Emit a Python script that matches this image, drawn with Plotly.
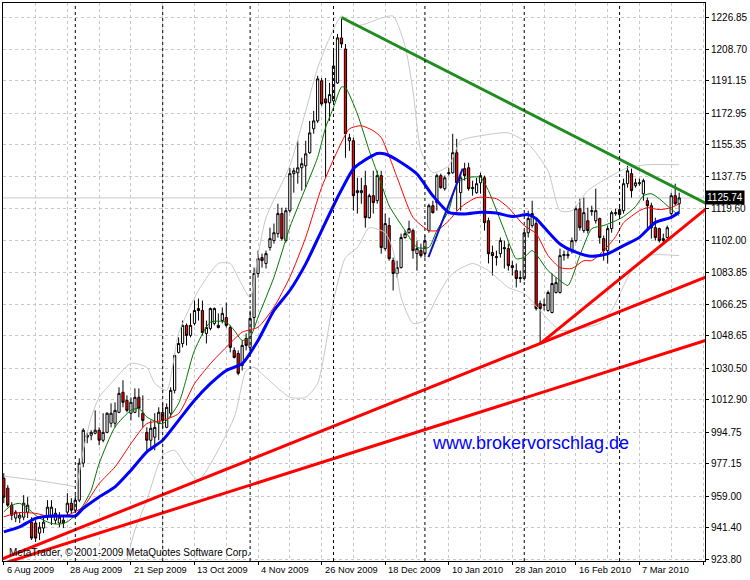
import plotly.graph_objects as go

# daily XAUUSD bars, 6 Aug 2009 .. mid Mar 2010 (bar index = x)
opens = [969.1, 963.5, 954.0, 946.8, 946.8, 947.3, 950.1, 944.5, 944.0, 938.4,
         941.2, 947.3, 947.3, 945.6, 944.0, 945.6, 950.1, 955.1, 951.2, 956.8,
         977.5, 992.0, 993.1, 994.2, 995.9, 990.3, 994.7, 999.8, 999.8, 1005.9,
         1017.1, 1012.6, 1005.4, 1005.9, 1014.3, 1005.4, 994.7, 990.3, 992.0, 999.8,
         1005.9, 997.5, 1005.4, 1018.2, 1039.4, 1044.4, 1054.5, 1048.9, 1055.6, 1063.9,
         1062.8, 1050.0, 1052.8, 1055.6, 1054.5, 1057.2, 1058.9, 1053.3, 1040.5, 1038.8,
         1032.1, 1047.2, 1042.2, 1058.9, 1083.5, 1092.4, 1089.1, 1098.0, 1101.9, 1105.8,
         1117.0, 1101.9, 1118.6, 1139.3, 1139.8, 1142.6, 1143.7, 1151.0, 1164.4, 1168.8,
         1191.2, 1181.1, 1178.9, 1180.0, 1190.0, 1215.2, 1209.0, 1157.7, 1157.7, 1128.7,
         1128.7, 1132.6, 1114.7, 1127.0, 1124.2, 1138.2, 1097.4, 1110.3, 1090.7, 1083.5,
         1086.8, 1103.6, 1106.3, 1107.5, 1094.6, 1096.3, 1094.6, 1107.5, 1121.4, 1123.1,
         1138.2, 1130.9, 1139.3, 1139.8, 1151.0, 1128.7, 1142.1, 1142.6, 1130.9, 1128.7,
         1134.2, 1137.0, 1113.0, 1095.2, 1092.4, 1094.6, 1098.0, 1097.4, 1087.9, 1085.1,
         1080.7, 1080.7, 1106.3, 1110.3, 1111.4, 1066.7, 1066.2, 1062.8, 1061.7, 1072.9,
         1072.9, 1093.5, 1093.5, 1096.3, 1101.9, 1119.7, 1107.5, 1113.0, 1118.1, 1113.0,
         1114.2, 1103.0, 1096.3, 1108.6, 1116.9, 1119.2, 1118.6, 1133.7, 1139.3, 1132.6,
         1133.7, 1128.1, 1124.2, 1121.4, 1109.1, 1108.6, 1101.9, 1103.6, 1117.0, 1127.0,
         1122.5]
highs = [971.9, 965.2, 955.7, 951.2, 950.1, 959.6, 958.5, 947.3, 945.6, 944.5,
         947.3, 956.8, 956.8, 952.3, 950.1, 948.4, 960.7, 957.9, 959.6, 980.2,
         997.0, 994.7, 995.9, 1007.0, 997.5, 1005.4, 1005.9, 1010.9, 1011.5, 1019.9,
         1023.8, 1015.4, 1014.3, 1019.3, 1019.3, 1015.4, 997.5, 1001.4, 1005.4, 1008.7,
         1010.9, 1010.9, 1019.9, 1038.8, 1047.8, 1057.2, 1055.6, 1061.2, 1068.4, 1069.5,
         1068.4, 1057.2, 1064.5, 1064.5, 1061.2, 1064.5, 1067.3, 1054.5, 1042.2, 1040.5,
         1046.1, 1050.0, 1062.8, 1086.8, 1096.3, 1094.6, 1096.3, 1109.1, 1111.4, 1122.5,
         1120.3, 1120.3, 1142.6, 1142.6, 1157.7, 1148.2, 1157.7, 1168.8, 1174.4, 1194.0,
         1192.8, 1192.8, 1190.0, 1209.6, 1217.4, 1226.3, 1211.8, 1161.6, 1159.4, 1137.0,
         1137.0, 1140.9, 1128.1, 1140.9, 1140.9, 1140.9, 1117.0, 1114.7, 1092.4, 1090.7,
         1105.8, 1107.5, 1113.0, 1108.6, 1101.9, 1100.2, 1104.7, 1122.5, 1124.2, 1139.3,
         1139.3, 1138.2, 1142.6, 1161.6, 1158.8, 1139.8, 1145.4, 1145.4, 1135.4, 1137.0,
         1139.8, 1138.2, 1114.7, 1099.1, 1096.3, 1103.6, 1101.9, 1100.2, 1090.7, 1089.1,
         1085.1, 1107.5, 1118.6, 1124.2, 1114.7, 1068.4, 1069.5, 1074.0, 1083.5, 1081.2,
         1097.4, 1096.3, 1096.3, 1103.6, 1121.4, 1125.3, 1125.9, 1120.3, 1121.4, 1130.9,
         1114.7, 1104.7, 1110.3, 1118.6, 1119.7, 1121.4, 1136.5, 1143.7, 1142.1, 1136.5,
         1136.5, 1136.5, 1125.9, 1123.1, 1114.7, 1109.1, 1105.8, 1110.3, 1128.7, 1133.7,
         1128.7]
lows = [955.1, 952.9, 945.6, 944.5, 944.0, 945.6, 946.8, 934.5, 933.4, 934.5,
        938.4, 945.6, 942.9, 943.4, 941.7, 941.2, 947.3, 949.5, 950.1, 955.7,
        975.2, 988.6, 990.3, 993.6, 987.5, 989.2, 994.2, 997.5, 997.5, 1005.4,
        1008.7, 1005.9, 1001.4, 1005.4, 1003.1, 997.5, 984.7, 985.8, 984.7, 990.3,
        997.0, 997.0, 1003.1, 1016.5, 1038.8, 1042.2, 1043.3, 1047.8, 1054.5, 1057.2,
        1048.9, 1044.4, 1051.7, 1054.5, 1052.8, 1055.6, 1053.3, 1039.4, 1036.0, 1026.6,
        1029.3, 1040.5, 1040.5, 1053.3, 1081.2, 1086.8, 1086.3, 1096.3, 1100.2, 1103.6,
        1101.9, 1100.8, 1117.5, 1128.7, 1133.7, 1129.8, 1131.5, 1150.4, 1161.6, 1167.7,
        1177.2, 1137.0, 1168.8, 1178.3, 1189.5, 1209.6, 1148.2, 1152.1, 1118.6, 1117.0,
        1122.5, 1109.1, 1114.2, 1117.0, 1122.5, 1094.6, 1096.3, 1090.7, 1074.0, 1081.2,
        1086.3, 1103.0, 1105.8, 1091.8, 1085.1, 1092.4, 1092.4, 1106.3, 1117.0, 1118.6,
        1130.9, 1129.8, 1138.2, 1139.3, 1118.6, 1118.6, 1135.4, 1129.8, 1127.0, 1128.1,
        1128.1, 1107.5, 1089.1, 1082.4, 1087.9, 1092.4, 1086.3, 1085.1, 1082.4, 1075.7,
        1078.4, 1079.6, 1103.6, 1109.1, 1062.8, 1044.4, 1062.8, 1062.2, 1061.2, 1072.3,
        1072.3, 1090.7, 1091.8, 1094.6, 1100.8, 1107.5, 1106.3, 1105.8, 1115.8, 1111.4,
        1100.2, 1090.7, 1089.1, 1106.3, 1115.8, 1115.3, 1117.0, 1131.5, 1125.9, 1131.5,
        1132.6, 1124.2, 1107.5, 1103.0, 1101.9, 1100.8, 1100.2, 1103.0, 1115.8, 1121.4,
        1117.5]
closes = [958.5, 954.0, 948.4, 950.1, 948.4, 955.1, 954.0, 935.6, 935.6, 941.7,
          944.5, 952.9, 952.9, 949.5, 947.3, 944.0, 955.1, 951.2, 956.8, 977.5,
          995.9, 993.1, 994.7, 995.9, 990.3, 994.7, 1005.4, 1005.4, 1007.0, 1016.5,
          1011.5, 1007.0, 1011.5, 1014.3, 1008.1, 1001.4, 990.3, 997.0, 997.5, 1005.9,
          1001.4, 1008.7, 1018.2, 1037.7, 1044.4, 1054.5, 1048.9, 1054.5, 1062.8, 1062.8,
          1050.5, 1053.3, 1063.9, 1063.9, 1053.3, 1061.2, 1054.5, 1042.2, 1036.6, 1027.7,
          1043.3, 1043.3, 1058.4, 1083.5, 1091.8, 1090.7, 1094.6, 1103.0, 1106.3, 1117.0,
          1103.0, 1118.6, 1139.3, 1140.9, 1142.6, 1144.9, 1150.4, 1162.1, 1168.8, 1192.3,
          1178.3, 1178.9, 1183.5, 1199.5, 1215.2, 1211.8, 1161.6, 1159.4, 1127.0, 1129.8,
          1129.8, 1114.7, 1127.0, 1123.1, 1138.2, 1098.0, 1111.4, 1091.8, 1083.5, 1086.8,
          1103.6, 1105.8, 1108.6, 1096.3, 1097.4, 1093.5, 1101.9, 1121.4, 1117.5, 1138.2,
          1131.5, 1137.0, 1139.8, 1151.0, 1134.2, 1137.0, 1138.2, 1130.9, 1131.5, 1133.7,
          1138.2, 1111.9, 1094.6, 1093.5, 1092.9, 1101.9, 1097.4, 1087.9, 1086.8, 1080.7,
          1081.2, 1106.3, 1114.2, 1117.0, 1063.9, 1063.9, 1065.6, 1072.9, 1077.9, 1078.4,
          1093.5, 1094.1, 1094.1, 1101.9, 1119.7, 1109.1, 1117.5, 1107.5, 1118.6, 1118.6,
          1103.6, 1096.3, 1108.6, 1117.5, 1117.5, 1116.4, 1133.7, 1140.9, 1129.8, 1134.2,
          1134.2, 1135.4, 1121.4, 1109.1, 1103.6, 1101.9, 1103.0, 1109.1, 1127.0, 1122.5,
          1125.74]
bars = list(range(len(closes)))

# indicator lines (bar index, price)
green_ma_x = [0, 2, 4, 6, 8, 10, 12, 14, 16, 18, 20, 22, 24, 28, 32, 34, 36, 40, 44, 48,
              52, 56, 58, 60, 62, 64, 68, 72, 76, 79, 81, 83, 85, 86, 89, 92, 95, 97, 101,
              104, 107, 109, 112, 114, 117, 120, 122, 126, 129, 131, 133, 137, 140, 142,
              145, 148, 151, 154, 156, 159, 161, 163, 165, 167, 170]
green_ma_y = [950.3, 954.0, 955.0, 952.3, 948.4, 945.6, 943.8, 943.4, 944.7, 948.4, 954.0,
              962.4, 977.3, 997.7, 1007.0, 1008.1, 1003.3, 999.6, 1010.8, 1040.5, 1056.3,
              1056.3, 1051.7, 1046.1, 1047.9, 1059.1, 1081.4, 1109.3, 1131.6, 1148.4,
              1165.1, 1176.3, 1187.8, 1187.4, 1172.7, 1152.1, 1133.7, 1121.4, 1107.5,
              1098.1, 1098.1, 1107.5, 1118.6, 1133.7, 1137.2, 1137.2, 1129.8, 1107.5,
              1091.7, 1092.6, 1096.3, 1085.1, 1079.6, 1076.8, 1093.5, 1108.6, 1110.3,
              1113.0, 1115.3, 1120.9, 1127.0, 1128.1, 1125.3, 1121.4, 1115.8]
red_ma_x = [0, 4, 8, 12, 16, 20, 24, 28, 32, 36, 40, 44, 48, 52, 56, 60, 64, 68, 72, 76,
            80, 84, 87, 90, 93, 95, 99, 103, 107, 109, 112, 115, 119, 124, 127, 131, 134,
            137, 140, 143, 146, 148, 151, 154, 156, 160, 162, 165, 168, 170]
red_ma_y = [947.5, 949.9, 949.4, 947.5, 948.4, 953.1, 966.1, 975.4, 988.4, 999.6, 1001.4,
            1005.2, 1021.9, 1033.1, 1042.3, 1050.7, 1053.5, 1064.7, 1081.4, 1103.7,
            1131.6, 1152.1, 1164.4, 1166.1, 1163.3, 1159.5, 1137.2, 1114.9, 1107.5,
            1107.5, 1113.0, 1120.5, 1125.9, 1125.3, 1120.3, 1110.3, 1105.8, 1093.5,
            1086.8, 1086.3, 1090.7, 1090.7, 1096.3, 1104.1, 1111.9, 1118.6, 1120.3,
            1119.2, 1120.3, 1122.5]
blue_ma_x = [0, 4, 8, 12, 16, 18, 20, 24, 28, 32, 36, 40, 44, 48, 52, 56, 60, 64, 68, 72,
             76, 80, 84, 88, 90, 92, 94, 96, 100, 104, 108, 112, 116, 120, 124, 128, 132,
             134, 136, 140, 144, 148, 152, 156, 160, 164, 168, 170]
blue_ma_y = [939.1, 941.9, 946.6, 947.9, 948.0, 948.0, 952.2, 958.6, 964.2, 973.5, 983.8,
             990.3, 1001.4, 1012.6, 1021.9, 1029.3, 1033.1, 1046.1, 1062.8, 1074.0,
             1088.9, 1107.5, 1126.0, 1142.1, 1145.6, 1148.4, 1150.6, 1150.3, 1145.6,
             1139.1, 1127.0, 1117.7, 1116.8, 1117.7, 1117.3, 1115.3, 1116.4, 1114.2,
             1109.3, 1100.0, 1095.4, 1093.1, 1094.5, 1099.1, 1103.7, 1112.1, 1114.9, 1117.7]
band_up_x = [0, 8, 16, 18, 20, 22, 24, 27, 32, 36, 38, 41, 44, 49, 54, 57, 59, 62, 64, 66,
             72, 76, 79, 82, 85, 88, 91, 95, 98, 101, 103, 105, 108, 112, 115, 120, 127,
             132, 137, 140, 143, 147, 152, 157, 162, 170]
band_up_y = [970.2, 968.0, 965.2, 964.6, 984.7, 1003.1, 1014.3, 1022.1, 1033.3, 1031.0,
             1022.1, 1018.2, 1050.0, 1074.0, 1089.1, 1089.1, 1081.2, 1070.1, 1094.0,
             1114.7, 1143.7, 1174.4, 1198.4, 1215.2, 1227.4, 1221.9, 1223.0, 1226.3,
             1227.4, 1210.7, 1185.6, 1152.1, 1139.8, 1143.7, 1157.7, 1160.5, 1162.1,
             1156.0, 1140.9, 1118.6, 1118.6, 1129.8, 1137.0, 1142.6, 1144.3, 1144.3]
band_dn_x = [31, 33, 36, 40, 43, 46, 49, 58, 61, 63, 66, 72, 76, 79, 83, 86, 89, 92, 96,
             98, 100, 103, 106, 109, 112, 114, 118, 122, 127, 131, 135, 140, 145, 150,
             153, 158, 162, 170]
band_dn_y = [923.3, 940.1, 956.8, 981.9, 984.7, 975.2, 968.0, 1003.1, 1029.3, 1031.0,
             1025.4, 1014.3, 1014.3, 1022.1, 1068.4, 1092.4, 1098.0, 1109.1, 1106.3,
             1096.3, 1070.1, 1055.6, 1057.2, 1070.1, 1081.2, 1085.1, 1089.1, 1085.1,
             1075.7, 1072.3, 1062.8, 1051.7, 1052.8, 1055.6, 1062.8, 1085.1, 1093.5, 1093.5]

# hand drawn trend lines (two anchors each)
tl_green = ([85, 177], [1226.6, 1122.4])
tl_red_a = ([-1, 177], [923.4, 1081.8])
tl_red_b = ([-1, 177], [920.8, 1046.3])
tl_red_c = ([135.1, 177], [1044.4, 1120.1])
tl_blue = ([106.9, 115.5], [1092.7, 1142.1])

bid = 1125.74

price_ticks = [1226.85, 1208.70, 1191.15, 1172.95, 1155.35, 1137.75, 1119.60, 1102.00,
               1083.85, 1066.25, 1048.65, 1030.50, 1012.90, 994.75, 977.15, 959.00,
               941.40, 923.80]
date_pos = [0, 16, 32, 48, 64, 80, 96, 112, 128, 144, 160]
date_labels = ["6 Aug 2009", "28 Aug 2009", "21 Sep 2009", "13 Oct 2009", "4 Nov 2009",
               "26 Nov 2009", "18 Dec 2009", "10 Jan 2010", "28 Jan 2010", "16 Feb 2010",
               "7 Mar 2010"]
month_starts = [18, 40, 62, 83, 106, 131, 155]

FONT = "Liberation Sans"

fig = go.Figure()

fig.add_trace(go.Candlestick(
    x=bars, open=opens, high=highs, low=lows, close=closes,
    increasing=dict(line=dict(color="black", width=1), fillcolor="white"),
    decreasing=dict(line=dict(color="black", width=1), fillcolor="#ff0000"),
    whiskerwidth=0, showlegend=False, hoverinfo="skip"))

# bid line
fig.add_hline(y=bid, line=dict(color="#c8c8c8", width=1), layer="below")

for xs, ys in [(band_up_x, band_up_y), (band_dn_x, band_dn_y)]:
    fig.add_trace(go.Scatter(x=xs, y=ys, mode="lines", showlegend=False,
                             line=dict(color="#c8c8c8", width=1, shape="spline", smoothing=0.6)))

fig.add_trace(go.Scatter(x=green_ma_x, y=green_ma_y, mode="lines", showlegend=False,
                         line=dict(color="#007800", width=1, shape="spline", smoothing=0.6)))
fig.add_trace(go.Scatter(x=red_ma_x, y=red_ma_y, mode="lines", showlegend=False,
                         line=dict(color="#ff0000", width=1, shape="spline", smoothing=0.6)))
fig.add_trace(go.Scatter(x=blue_ma_x, y=blue_ma_y, mode="lines", showlegend=False,
                         line=dict(color="#0000ff", width=3, shape="spline", smoothing=0.6)))

for (xs, ys), col, w in [(tl_red_a, "#ff0000", 3), (tl_red_b, "#ff0000", 3),
                         (tl_red_c, "#ff0000", 3), (tl_green, "#1f8c1f", 3),
                         (tl_blue, "#1010c8", 2)]:
    fig.add_trace(go.Scatter(x=xs, y=ys, mode="lines", showlegend=False,
                             line=dict(color=col, width=w)))

# monthly period separators
for m in month_starts:
    fig.add_shape(type="line", x0=m, x1=m, yref="paper", y0=0, y1=1,
                  line=dict(color="black", width=1, dash="3px,3px"))

# date labels, left aligned like MetaTrader
for p, t in zip(date_pos, date_labels):
    fig.add_annotation(x=p, y=0, yref="paper", text=t, showarrow=False,
                       xanchor="left", yanchor="top", xshift=1, yshift=-2,
                       font=dict(family=FONT, size=9.3, color="black"))

fig.add_annotation(x=1, xref="paper", y=bid, text="1125.74", showarrow=False,
                   xanchor="left", yanchor="middle", xshift=0, bgcolor="black",
                   borderpad=1, font=dict(family=FONT, size=10, color="white"))

fig.add_annotation(x=0.751, y=0.211, xref="paper", yref="paper",
                   xanchor="center", yanchor="middle",
                   text="www.brokervorschlag.de", showarrow=False,
                   font=dict(family=FONT, size=18, color="#0000ff"))

fig.add_annotation(x=0, y=0, xref="paper", yref="paper", xanchor="left", yanchor="bottom",
                   xshift=4, yshift=1, showarrow=False,
                   text="MetaTrader, © 2001-2009 MetaQuotes Software Corp.",
                   font=dict(family=FONT, size=10, color="black"))

fig.update_layout(
    width=750, height=580,
    margin=dict(l=2, r=41, t=2, b=19),
    paper_bgcolor="white", plot_bgcolor="white",
    font=dict(family=FONT, size=10, color="black"),
    showlegend=False,
    boxgap=0.2,
    xaxis=dict(range=[-0.2, 176.5], rangeslider=dict(visible=False),
               tickmode="linear", tick0=0, dtick=16, showticklabels=False,
               ticks="outside", ticklen=3, tickcolor="black",
               showgrid=True, gridcolor="#c8c8c8", griddash="3px,3px", gridwidth=1,
               minor=dict(tickmode="linear", tick0=8, dtick=16, showgrid=True,
                          gridcolor="#c8c8c8", griddash="3px,3px", ticks=""),
               showline=True, linecolor="black", mirror=True, zeroline=False),
    yaxis=dict(range=[922.8, 1234.7], side="right",
               tickvals=price_ticks, ticktext=["%.2f" % v for v in price_ticks],
               ticks="outside", ticklen=3, tickcolor="black",
               tickfont=dict(family=FONT, size=10),
               showgrid=True, gridcolor="#c8c8c8", griddash="3px,3px",
               showline=True, linecolor="black", mirror=True, zeroline=False),
)

fig.write_html("out.html", config={"displayModeBar": False},
               post_script="document.body.style.margin='0';")
